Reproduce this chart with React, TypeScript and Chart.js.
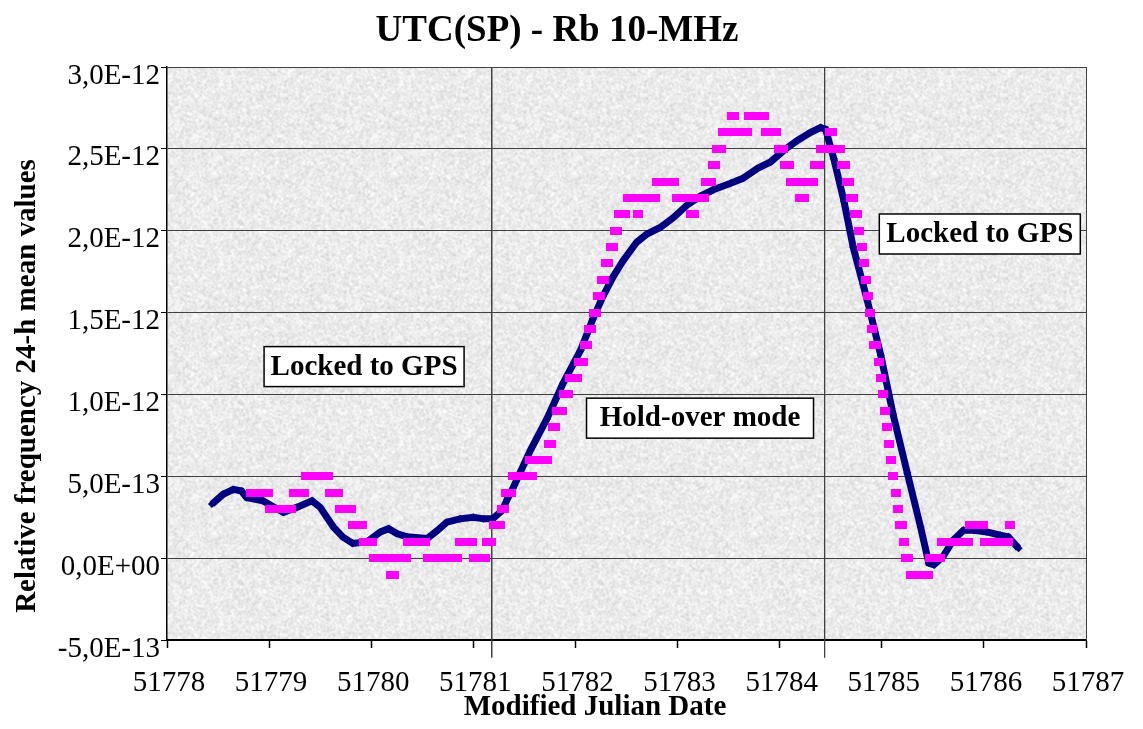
import React, { useEffect, useRef } from "react";
import { Chart, registerables } from "chart.js";

Chart.register(...registerables);

const SERIF = "'Liberation Serif', 'Times New Roman', Times, serif";

const TITLE = "UTC(SP) - Rb 10-MHz";
const X_TITLE = "Modified Julian Date";
const Y_TITLE = "Relative frequency 24-h mean values";

const xTickValues = [51778, 51779, 51780, 51781, 51782, 51783, 51784, 51785, 51786, 51787];
const yTickValues = [-5e-13, 0, 5e-13, 1e-12, 1.5e-12, 2e-12, 2.5e-12, 3e-12];
const yTickLabels = ["-5,0E-13", "0,0E+00", "5,0E-13", "1,0E-12", "1,5E-12", "2,0E-12", "2,5E-12", "3,0E-12"];

// Blue series: UTC(SP) - Rb, MJD and value in units of 1E-12
const rbMjd = [
  51778.44, 51778.55, 51778.65, 51778.73, 51778.78, 51778.94, 51779.08, 51779.14, 51779.27, 51779.42,
  51779.5, 51779.63, 51779.72, 51779.82, 51779.96, 51780.09, 51780.17, 51780.25, 51780.35, 51780.55,
  51780.65, 51780.74, 51780.87, 51781.0, 51781.1, 51781.19, 51781.28, 51781.34, 51781.39, 51781.56,
  51781.72, 51781.88, 51782.05, 51782.17, 51782.27, 51782.37, 51782.47, 51782.6, 51782.7, 51782.83,
  51782.96, 51783.1, 51783.22, 51783.35, 51783.52, 51783.64, 51783.78, 51783.91, 51784.04, 51784.17,
  51784.3, 51784.4, 51784.45, 51784.53, 51784.63, 51784.72, 51784.86, 51784.99, 51785.11, 51785.25,
  51785.38, 51785.46, 51785.51, 51785.6, 51785.7, 51785.8, 51785.9, 51786.03, 51786.16, 51786.24,
  51786.34,
];
const rbValue = [
  0.33, 0.39, 0.42, 0.41, 0.37, 0.35, 0.3, 0.28, 0.31, 0.35,
  0.31, 0.19, 0.13, 0.09, 0.1, 0.16, 0.18, 0.15, 0.13, 0.12,
  0.17, 0.22, 0.24, 0.25, 0.24, 0.24, 0.29, 0.37, 0.43, 0.66,
  0.85, 1.07, 1.27, 1.46, 1.6, 1.72, 1.82, 1.93, 1.98, 2.02,
  2.08, 2.16, 2.21, 2.25, 2.29, 2.32, 2.38, 2.42, 2.49, 2.55,
  2.6, 2.63, 2.62, 2.44, 2.18, 1.9, 1.57, 1.24, 0.88, 0.52,
  0.19, -0.03, -0.04, 0.01, 0.11, 0.17, 0.17, 0.16, 0.14, 0.13,
  0.06,
];

// Magenta series: half-hourly samples, values in units of 1E-13
const gpsStartMjd = 51778.823;
const gpsStepDays = 1 / 48;
const gpsValue = [
  4, 4, 4, 4, 4, 4, 4, 4, 4,
  3, 3, 3, 3, 3, 3, 3, 3, 3, 3, 3,
  4, 4, 4, 4, 4, 4,
  5, 5, 5, 5, 5, 5, 5, 5, 5, 5, 5,
  4, 4, 4, 4, 4,
  3, 3, 3, 3, 3, 3,
  2, 2, 2, 2, 2,
  1, 1, 1, 1, 1,
  0, 0, 0, 0, 0, 0, 0, 0,
  -1, -1,
  0, 0, 0, 0, 0, 0,
  1, 1, 1, 1, 1, 1, 1, 1, 1,
  0, 0, 0, 0, 0, 0, 0, 0, 0, 0, 0, 0, 0, 0, 0,
  1, 1, 1, 1, 1, 1, 1,
  0, 0, 0, 0, 0, 0,
  1, 1, 1,
  2, 2, 2, 2,
  3, 3,
  4, 4, 4,
  5, 5, 5, 5, 5, 5, 5, 5,
  6, 5, 6,
  6, 6, 6, 6, 6, 6,
  7, 7, 8, 8, 9, 9, 9, 10, 10, 10, 11, 11, 11, 11, 12, 12, 12,
  13, 13, 14, 14, 15, 15, 16, 16, 17, 17, 18, 18, 19, 19, 20, 20,
  21, 21, 21, 21,
  22, 22, 22, 22, 22,
  21,
  22, 22, 22, 22, 22, 22, 22, 22,
  23, 23, 23, 23, 23, 23, 23, 23, 23,
  22, 22, 22, 22, 22, 22, 22,
  21, 21,
  22, 22, 22, 22, 22,
  23, 23, 23,
  24, 24,
  25, 25, 25,
  26, 26, 26, 26,
  27, 27,
  26, 26, 26, 26, 26, 26,
  27, 27, 27, 27, 27, 27, 27, 27,
  26, 26, 26, 26, 26, 26,
  25, 25, 25,
  24, 24, 24,
  23, 23, 23, 23,
  22, 22, 22,
  23, 23, 23, 23,
  24, 24, 24,
  25, 25, 25, 25,
  26, 26,
  25, 25, 25, 25,
  24, 24, 23, 23, 22, 22, 21, 21,
  20, 19, 18, 17, 16, 15, 14, 13, 13, 12, 11, 10, 9, 8, 7, 6, 5, 4, 3, 2, 2, 1, 0, 0,
  -1, -1, -1, -1, -1, -1, -1, -1, -1,
  0, 0, 0, 0, 0, 0,
  1, 1, 1, 1, 1, 1, 1, 1, 1, 1, 1, 1, 1,
  2, 2, 2, 2, 2, 2, 2,
  1, 1, 1, 1, 1, 1, 1, 1, 1, 1, 1, 1,
  2,
];

// Vertical marker lines separating the modes (MJD)
const modeLineMjd = [51781.18, 51784.44];
const modeLineTop = 3e-12;
const modeLineBottom = -0.607e-12;

// Text boxes (centre in data coordinates)
const boxLabels = ["Locked to GPS", "Hold-over mode", "Locked to GPS"];
const boxMjd = [51779.93, 51783.22, 51785.96];
const boxValue = [1.17e-12, 0.855e-12, 1.98e-12];
const boxWidths = [200, 227, 201];

function makeGranite(): HTMLCanvasElement {
  const size = 180;
  const c = document.createElement("canvas");
  c.width = size;
  c.height = size;
  const g = c.getContext("2d")!;
  const img = g.createImageData(size, size);
  let s = 987654321;
  const next = () => {
    s = (Math.imul(s, 1103515245) + 12345) >>> 0;
    return ((s >>> 8) & 0xffff) / 65535;
  };
  const cells = new Float32Array(size * size);
  for (let i = 0; i < cells.length; i++) cells[i] = next();
  for (let y = 0; y < size; y++) {
    for (let x = 0; x < size; x++) {
      let sum = 0;
      for (let dy = -1; dy <= 1; dy++)
        for (let dx = -1; dx <= 1; dx++) {
          const xx = (x + dx + size) % size;
          const yy = (y + dy + size) % size;
          sum += cells[yy * size + xx];
        }
      const avg = sum / 9;
      const own = cells[y * size + x];
      let v = 235 + (avg - 0.5) * 50 + (own - 0.5) * 12;
      v = Math.max(198, Math.min(252, v));
      const k = (y * size + x) * 4;
      img.data[k] = v;
      img.data[k + 1] = v;
      img.data[k + 2] = v;
      img.data[k + 3] = 255;
    }
  }
  g.putImageData(img, 0, 0);
  return c;
}

function makeMarker(): HTMLCanvasElement {
  const c = document.createElement("canvas");
  c.width = 10;
  c.height = 8;
  const g = c.getContext("2d")!;
  g.fillStyle = "#FF00FF";
  g.fillRect(0, 0, 10, 8);
  return c;
}

export default function App() {
  const ref = useRef<HTMLCanvasElement>(null);

  useEffect(() => {
    const canvas = ref.current;
    if (!canvas) return;
    const granite = makeGranite();
    const marker = makeMarker();

    const decor = {
      id: "decor",
      beforeDraw(chart: any) {
        const { ctx, chartArea: a } = chart;
        ctx.save();
        ctx.fillStyle = "#ffffff";
        ctx.fillRect(0, 0, chart.width, chart.height);
        const pat = ctx.createPattern(granite, "repeat");
        ctx.fillStyle = pat || "#e8e8e8";
        ctx.fillRect(a.left, a.top, a.right - a.left, a.bottom - a.top);
        ctx.restore();
      },
      afterDraw(chart: any) {
        const { ctx, chartArea: a, scales } = chart;
        ctx.save();
        // right plot border
        ctx.strokeStyle = "#404040";
        ctx.lineWidth = 1;
        ctx.beginPath();
        ctx.moveTo(a.right + 0.5, a.top);
        ctx.lineTo(a.right + 0.5, a.bottom);
        ctx.stroke();

        ctx.fillStyle = "#000";
        ctx.textAlign = "center";
        ctx.textBaseline = "alphabetic";
        ctx.font = `bold 37px ${SERIF}`;
        ctx.fillText(TITLE, 557, 41);

        ctx.font = `bold 29px ${SERIF}`;
        ctx.fillText(X_TITLE, 595, 715);

        ctx.save();
        ctx.translate(35, 386);
        ctx.rotate(-Math.PI / 2);
        ctx.fillText(Y_TITLE, 0, 0);
        ctx.restore();

        // text boxes
        for (let i = 0; i < boxLabels.length; i++) {
          const cx = scales.x.getPixelForValue(boxMjd[i]);
          const cy = scales.y.getPixelForValue(boxValue[i]);
          const w = boxWidths[i];
          const h = 40;
          ctx.fillStyle = "#ffffff";
          ctx.fillRect(cx - w / 2, cy - h / 2, w, h);
          ctx.strokeStyle = "#000";
          ctx.lineWidth = 1.5;
          ctx.strokeRect(cx - w / 2, cy - h / 2, w, h);
          ctx.fillStyle = "#000";
          ctx.font = `bold 29px ${SERIF}`;
          ctx.textAlign = "center";
          ctx.fillText(boxLabels[i], cx, cy + 8);
        }
        ctx.restore();
      },
    };

    const modeLines = modeLineMjd.map((m, i) => ({
      label: "mode" + i,
      data: [
        { x: m, y: modeLineTop },
        { x: m, y: modeLineBottom },
      ],
      showLine: true,
      borderColor: "#404040",
      borderWidth: 1,
      pointRadius: 0,
      clip: false as any,
      order: 5,
    }));

    const chart = new Chart(canvas, {
      type: "scatter",
      data: {
        datasets: [
          ...modeLines,
          {
            label: "UTC(SP) - Rb",
            data: rbMjd.map((x, i) => ({ x, y: rbValue[i] * 1e-12 })),
            showLine: true,
            borderColor: "#000080",
            backgroundColor: "#000080",
            borderWidth: 7,
            pointStyle: "rectRot",
            pointRadius: 4,
            pointBorderWidth: 0,
            tension: 0,
            order: 2,
          },
          {
            label: "GPS",
            data: gpsValue.map((v, j) => ({ x: gpsStartMjd + j * gpsStepDays, y: v * 1e-13 })),
            showLine: false,
            pointStyle: marker as any,
            pointRadius: 5,
            order: 1,
          },
        ] as any,
      },
      options: {
        animation: false,
        responsive: false,
        events: [],
        layout: { padding: { top: 67, right: 57, left: 0, bottom: 0 } },
        plugins: {
          legend: { display: false },
          tooltip: { enabled: false },
          title: { display: false },
        },
        scales: {
          x: {
            type: "linear",
            min: 51778,
            max: 51787,
            afterBuildTicks: (s: any) => {
              s.ticks = xTickValues.map((v) => ({ value: v }));
            },
            afterFit: (s: any) => {
              s.height = 89;
            },
            ticks: {
              font: { family: SERIF, size: 29 },
              color: "#000",
              padding: 18,
              labelOffset: 2,
              maxRotation: 0,
              autoSkip: false,
              callback: (v: any) => String(v),
            },
            grid: {
              drawOnChartArea: false,
              drawTicks: true,
              tickLength: 8,
              tickColor: "#000",
              tickWidth: 1.5,
            },
            border: { color: "#000", width: 2 },
          },
          y: {
            type: "linear",
            min: -5e-13,
            max: 3e-12,
            afterBuildTicks: (s: any) => {
              s.ticks = yTickValues.map((v) => ({ value: v }));
            },
            afterFit: (s: any) => {
              s.width = 167;
            },
            ticks: {
              font: { family: SERIF, size: 29 },
              color: "#000",
              padding: 1,
              labelOffset: 9,
              autoSkip: false,
              callback: (_v: any, i: number) => yTickLabels[i],
            },
            grid: {
              color: "#404040",
              lineWidth: 1,
              drawTicks: true,
              tickLength: 6,
              tickColor: "#000",
            },
            border: { color: "#000", width: 1.5 },
          },
        },
      } as any,
      plugins: [decor],
    });
    return () => chart.destroy();
  }, []);

  return (
    <div style={{ position: "absolute", left: 0, top: 0, width: 1143, height: 729, background: "#fff" }}>
      <canvas ref={ref} width={1143} height={729} style={{ display: "block", width: 1143, height: 729 }} />
    </div>
  );
}
